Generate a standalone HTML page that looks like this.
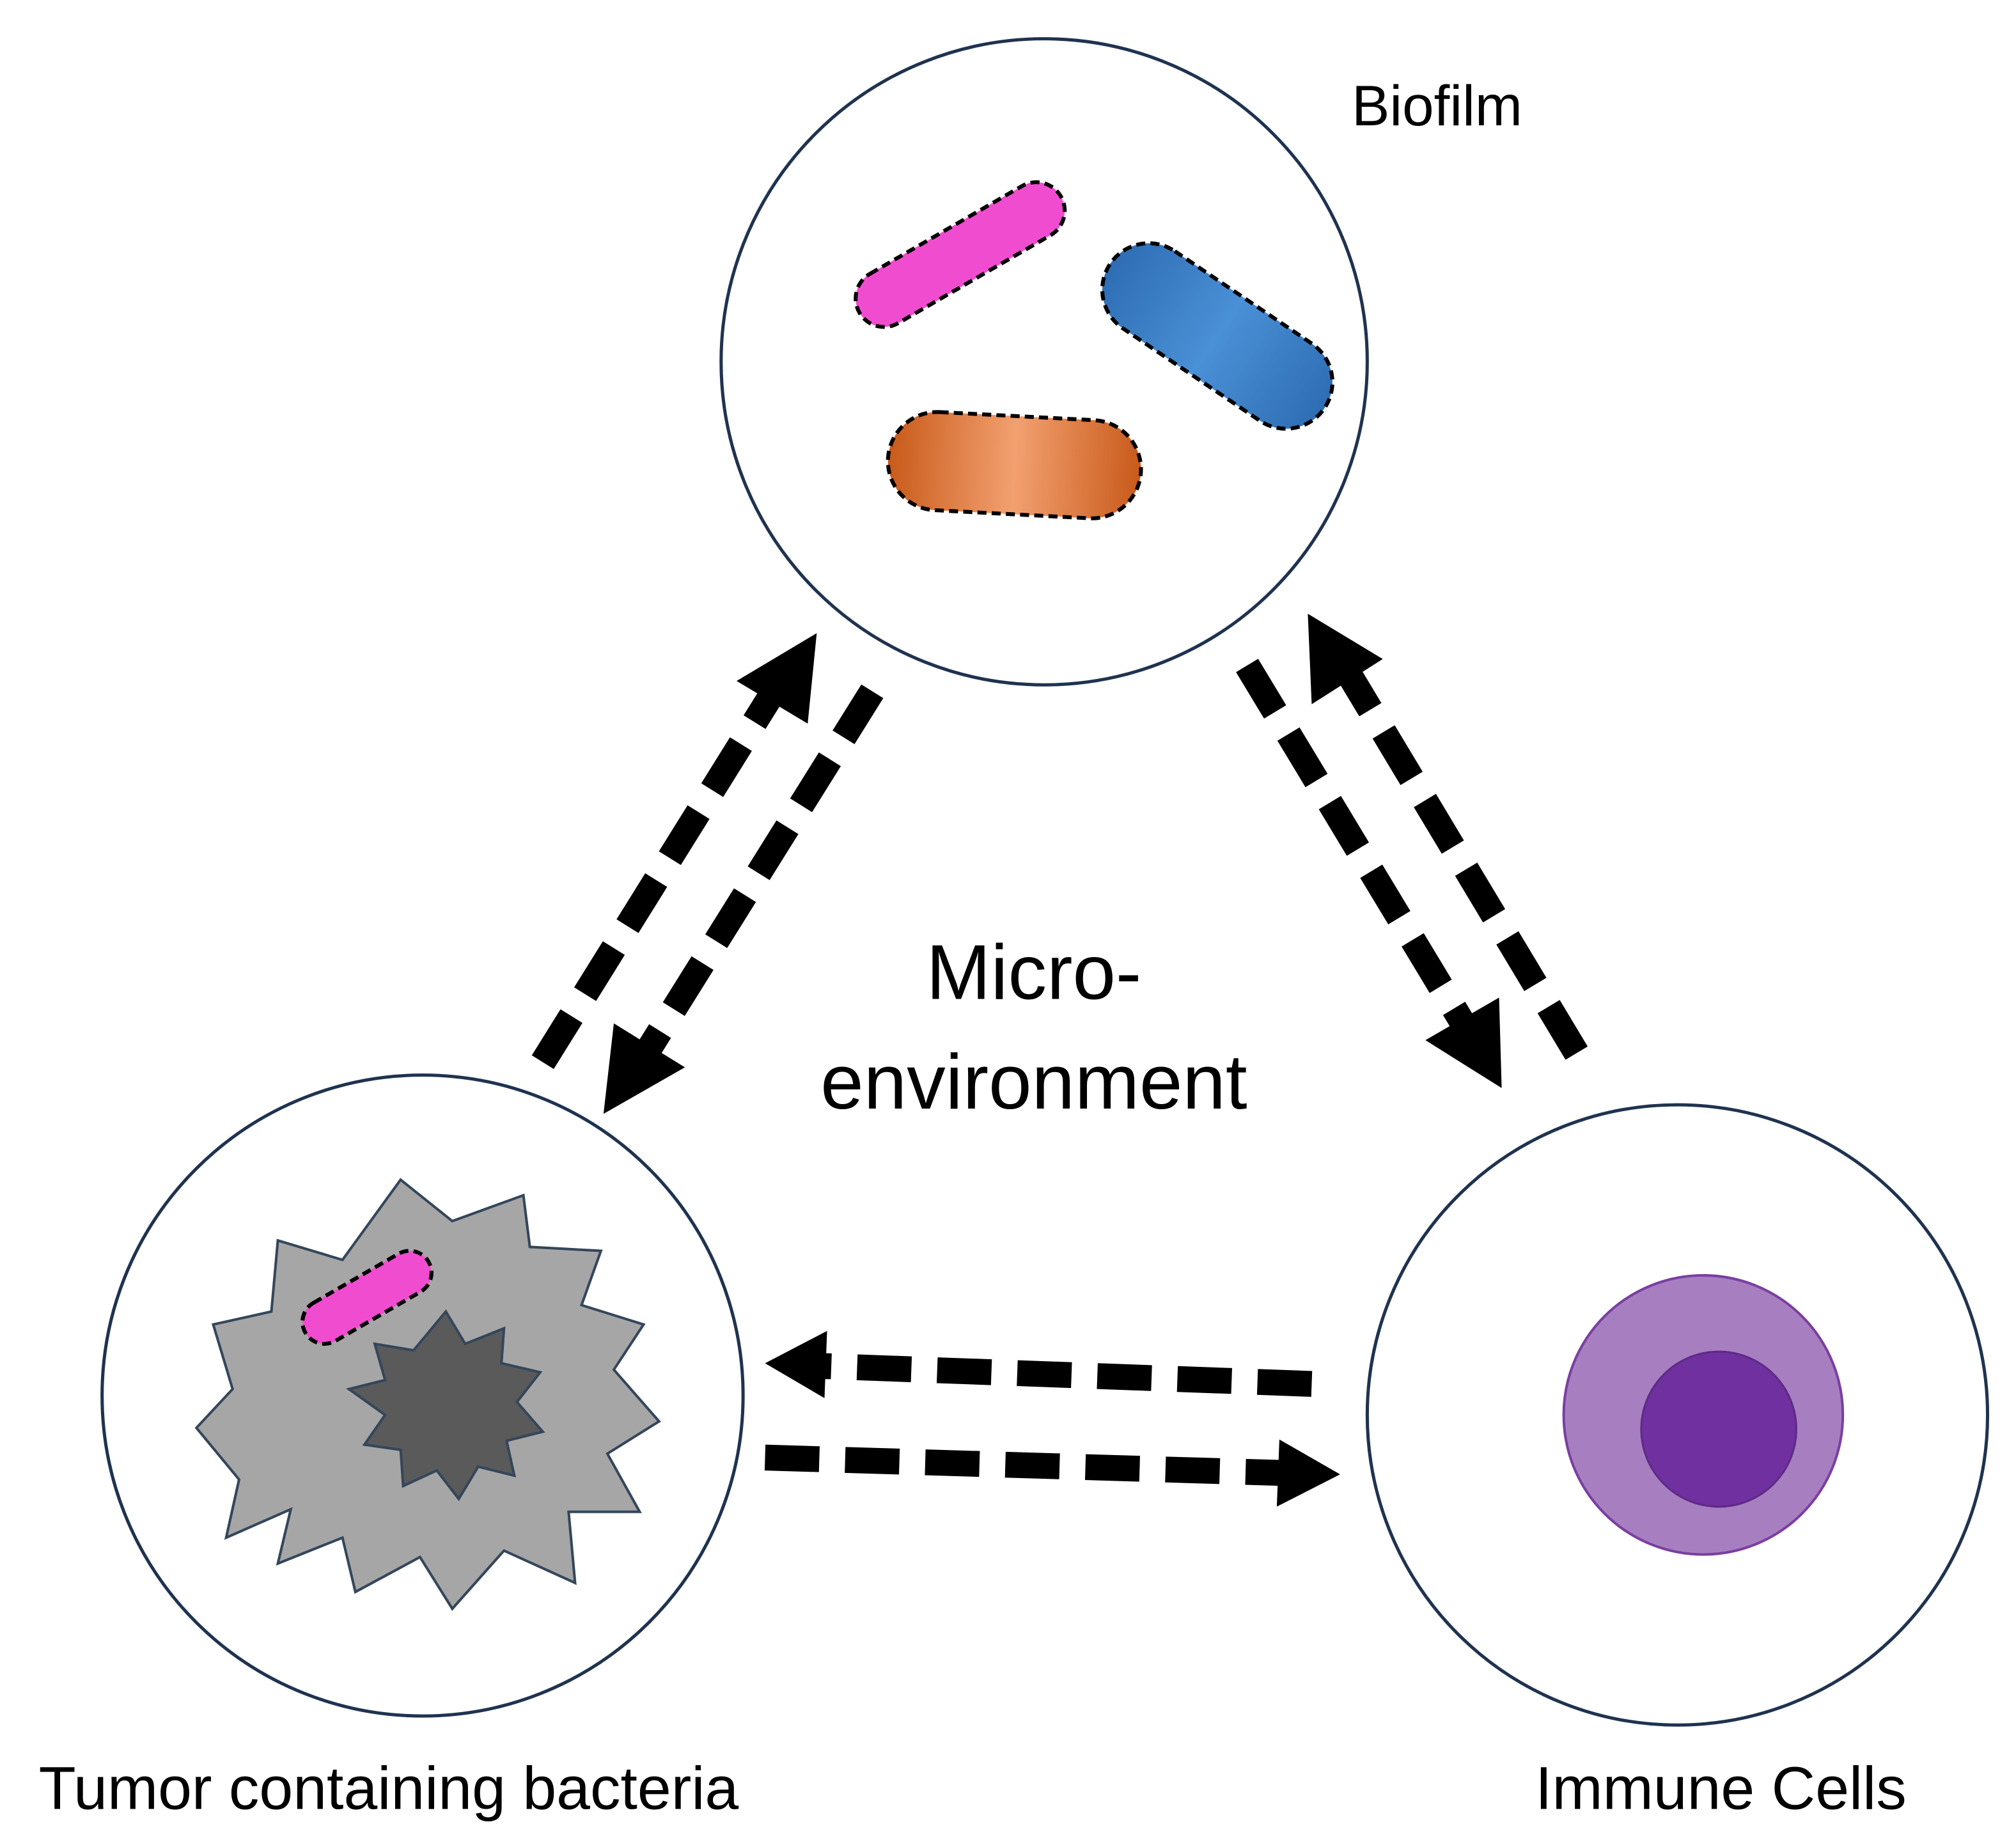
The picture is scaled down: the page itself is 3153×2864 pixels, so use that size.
<!DOCTYPE html>
<html><head><meta charset="utf-8"><style>
html,body{margin:0;padding:0;background:#fff;}
svg{display:block;}
text{font-family:"Liberation Sans","DejaVu Sans",sans-serif;fill:#000;}
</style></head><body>
<svg width="3153" height="2864" viewBox="0 0 1560 1417" preserveAspectRatio="none" xmlns="http://www.w3.org/2000/svg">
<defs>
<linearGradient id="gb" x1="0" y1="0" x2="1" y2="0"><stop offset="0" stop-color="#2e6db3"/><stop offset="0.5" stop-color="#4a90d6"/><stop offset="1" stop-color="#2e6db3"/></linearGradient>
<linearGradient id="go" x1="0" y1="0" x2="1" y2="0"><stop offset="0" stop-color="#c85a1a"/><stop offset="0.5" stop-color="#f2a070"/><stop offset="1" stop-color="#c85a1a"/></linearGradient>
</defs>
<rect width="1560" height="1417" fill="#fff"/>
<!-- circles -->
<circle cx="808" cy="280" r="250" fill="#fff" stroke="#1f3350" stroke-width="2.5"/>
<circle cx="327" cy="1080" r="248" fill="#fff" stroke="#1f3350" stroke-width="2.5"/>
<circle cx="1298" cy="1095" r="240" fill="#fff" stroke="#1f3350" stroke-width="2.5"/>
<!-- bacteria -->
<g stroke="#000" stroke-width="3" stroke-dasharray="7 4">
<rect x="-90" y="-22" width="180" height="44" rx="22" fill="#f04ccf" transform="translate(743,197) rotate(-30)"/>
<rect x="-100" y="-36" width="200" height="72" rx="36" fill="url(#gb)" transform="translate(942,260) rotate(34)"/>
<rect x="-98" y="-38" width="196" height="76" rx="38" fill="url(#go)" transform="translate(785,360) rotate(3)"/>
</g>
<!-- tumor -->
<polygon fill="#a6a6a6" stroke="#34465a" stroke-width="2" points="310,913 350,945 405,925 410,965 465,968 450,1010 498,1025 475,1060 510,1100 470,1125 495,1170 440,1170 445,1225 390,1200 350,1245 325,1205 275,1232 265,1190 215,1210 225,1168 175,1190 185,1145 152,1105 180,1075 165,1025 210,1015 215,960 265,975"/>
<polygon fill="#5a5a5a" stroke="#34465a" stroke-width="2" points="345,1015 360,1040 390,1028 388,1055 418,1062 400,1085 420,1108 392,1115 398,1142 370,1135 355,1160 338,1138 312,1150 310,1122 282,1118 298,1095 270,1075 298,1068 290,1040 320,1045"/>
<rect x="-55" y="-17" width="110" height="34" rx="17" fill="#f04ccf" stroke="#000" stroke-width="3" stroke-dasharray="7 4" transform="translate(284,1004) rotate(-30)"/>
<!-- immune cell -->
<circle cx="1318" cy="1095" r="108" fill="#a77fc1" stroke="#7a3fa0" stroke-width="2"/>
<circle cx="1330" cy="1106" r="60" fill="#7030a0" stroke="#5d2a86" stroke-width="1.5"/>
<!-- arrows -->
<g stroke="#000" stroke-width="20" stroke-dasharray="42 20" fill="none">
<line x1="420" y1="822" x2="605" y2="525"/>
<line x1="675" y1="535" x2="492" y2="828"/>
<line x1="965" y1="515" x2="1140" y2="805"/>
<line x1="1220" y1="815" x2="1038" y2="512"/>
<line x1="1015" y1="1071" x2="632" y2="1057"/>
<line x1="592" y1="1128" x2="995" y2="1140"/>
</g>
<g fill="#000">
<polygon points="632,490 625,560 570,527"/>
<polygon points="467,862 475,792 530,826"/>
<polygon points="1162,842 1103,805 1160,772"/>
<polygon points="1012,475 1070,510 1015,545"/>
<polygon points="592,1055 640,1030 638,1082"/>
<polygon points="1037,1141 988,1166 990,1114"/>
</g>
<!-- labels -->
<text x="1046" y="97" font-size="44">Biofilm</text>
<text x="800" y="773" font-size="60" text-anchor="middle">Micro-</text>
<text x="800" y="858" font-size="60" text-anchor="middle">environment</text>
<text x="30" y="1400" font-size="47">Tumor containing bacteria</text>
<text x="1188" y="1400" font-size="47">Immune Cells</text>
</svg>
</body></html>
